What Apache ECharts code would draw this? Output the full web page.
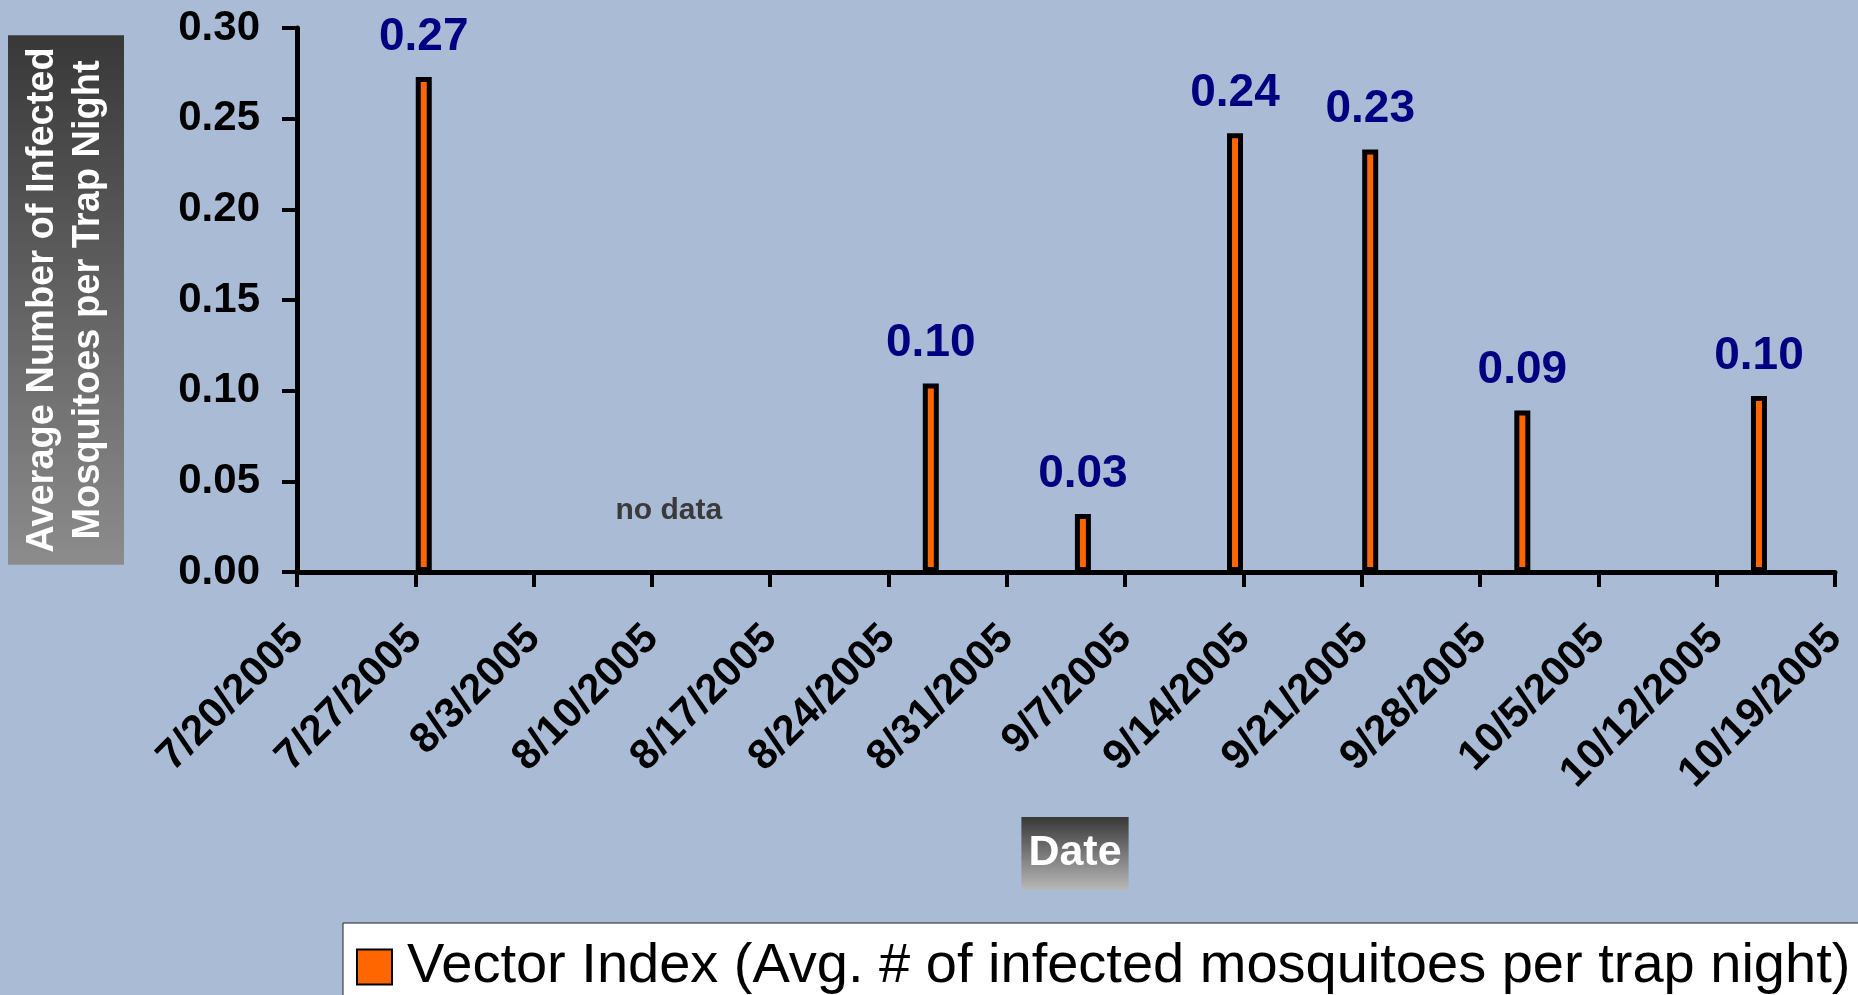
<!DOCTYPE html>
<html>
<head>
<meta charset="utf-8">
<title>Vector Index 2005</title>
<script src="https://cdn.jsdelivr.net/npm/echarts@6/dist/echarts.min.js"></script>
<style>
  html, body { margin: 0; padding: 0; background: #a9bbd5; }
  #chart { width: 1858px; height: 995px; }
</style>
</head>
<body>
<div id="chart"></div>
<script>
// trap nights with a vector index (date of collection, avg infected mosquitoes per trap night)
var sampleDates = ['2005-07-27', '2005-08-26', '2005-09-04', '2005-09-13', '2005-09-21', '2005-09-30', '2005-10-14'];
var vectorIndex = [0.273, 0.104, 0.032, 0.242, 0.233, 0.089, 0.097];
// weekly axis from 7/20/2005 to 10/19/2005
var axisStart = '2005-07-20';
var axisEnd = '2005-10-19';
var tickDays = 7;
var yTicks = [0, 0.05, 0.10, 0.15, 0.20, 0.25, 0.30];
// the gap in sampling
var noDataNote = { date: '2005-08-11', value: 0.034, text: 'no data' };

var DAY = 86400000;
var base = Date.parse(axisStart + 'T00:00:00Z');
// bars sit in the middle of their day slot, like the spreadsheet date axis
function dayOf(s) { return (Date.parse(s + 'T12:00:00Z') - base) / DAY; }
function fmtDate(v) {
  var d = new Date(base + v * DAY);
  return (d.getUTCMonth() + 1) + '/' + d.getUTCDate() + '/' + d.getUTCFullYear();
}

var barData = sampleDates.map(function (s, i) { return [dayOf(s), vectorIndex[i]]; });
var FONT = "'Liberation Sans', Arial, sans-serif";

var myChart = echarts.init(document.getElementById('chart'));
myChart.setOption({
  backgroundColor: '#a9bbd5',
  animation: false,
  grid: { left: 296, right: 23, top: 28, bottom: 423 },
  legend: {
    left: 343,
    top: 923,
    padding: [16, 30, 30, 13],
    backgroundColor: '#ffffff',
    borderColor: '#222',
    borderWidth: 1,
    itemWidth: 35,
    itemHeight: 35,
    icon: 'rect',
    textStyle: { fontFamily: FONT, fontSize: 56, color: '#000', padding: [0, 0, 0, 10] },
    data: ['Vector Index (Avg. # of infected mosquitoes per trap night)']
  },
  xAxis: {
    type: 'value',
    min: 0,
    max: dayOf(axisEnd) - 0.5,
    interval: tickDays,
    splitLine: { show: false },
    axisLine: { lineStyle: { color: '#000', width: 5 } },
    axisTick: { show: true, length: 15, lineStyle: { color: '#000', width: 4 } },
    axisLabel: {
      rotate: 45,
      margin: 60,
      fontFamily: FONT,
      fontWeight: 'bold',
      fontSize: 42,
      color: '#000',
      formatter: fmtDate
    },
    // spacer token nudges the boxed title a little right of the axis centre
    name: '{s|}{d|Date}',
    nameLocation: 'middle',
    nameGap: 245,
    nameTextStyle: {
      rich: {
        s: { width: 18 },
        d: {
          fontFamily: FONT,
          fontWeight: 'bold',
          fontSize: 43,
          color: '#fff',
          padding: [15, 7, 15, 7],
          backgroundColor: new echarts.graphic.LinearGradient(0, 0, 0, 1, [
            { offset: 0, color: '#383838' },
            { offset: 1, color: '#b8b8b8' }
          ])
        }
      }
    }
  },
  yAxis: {
    type: 'value',
    min: yTicks[0],
    max: yTicks[yTicks.length - 1],
    interval: yTicks[1] - yTicks[0],
    splitLine: { show: false },
    axisLine: { show: true, lineStyle: { color: '#000', width: 5 } },
    axisTick: { show: true, length: 15, lineStyle: { color: '#000', width: 4 } },
    axisLabel: {
      margin: 37,
      fontFamily: FONT,
      fontWeight: 'bold',
      fontSize: 42,
      color: '#000',
      formatter: function (v) { return v.toFixed(2); }
    },
    name: 'Average Number of Infected\nMosquitoes per Trap Night',
    nameLocation: 'middle',
    nameRotate: 90,
    nameGap: 173,
    nameTextStyle: {
      fontFamily: FONT,
      fontWeight: 'bold',
      fontSize: 38,
      lineHeight: 46,
      color: '#fff',
      padding: [12, 12, 12, 12],
      backgroundColor: new echarts.graphic.LinearGradient(0, 0, 1, 0, [
        { offset: 0, color: '#8c8c8c' },
        { offset: 1, color: '#383838' }
      ])
    }
  },
  series: [{
    name: 'Vector Index (Avg. # of infected mosquitoes per trap night)',
    type: 'bar',
    barWidth: 16,
    data: barData,
    itemStyle: { color: '#ff6600', borderColor: '#000', borderWidth: 5 },
    label: {
      show: true,
      position: 'top',
      distance: 17,
      fontFamily: FONT,
      fontWeight: 'bold',
      fontSize: 46,
      color: '#000080',
      formatter: function (p) { return p.value[1].toFixed(2); }
    },
    markPoint: {
      symbol: 'circle',
      symbolSize: 0,
      label: {
        show: true,
        position: 'inside',
        fontFamily: FONT,
        fontWeight: 'bold',
        fontSize: 30,
        color: '#3a3a3a',
        formatter: noDataNote.text
      },
      data: [{ coord: [dayOf(noDataNote.date) - 0.5, noDataNote.value] }]
    }
  }]
});
</script>
</body>
</html>
